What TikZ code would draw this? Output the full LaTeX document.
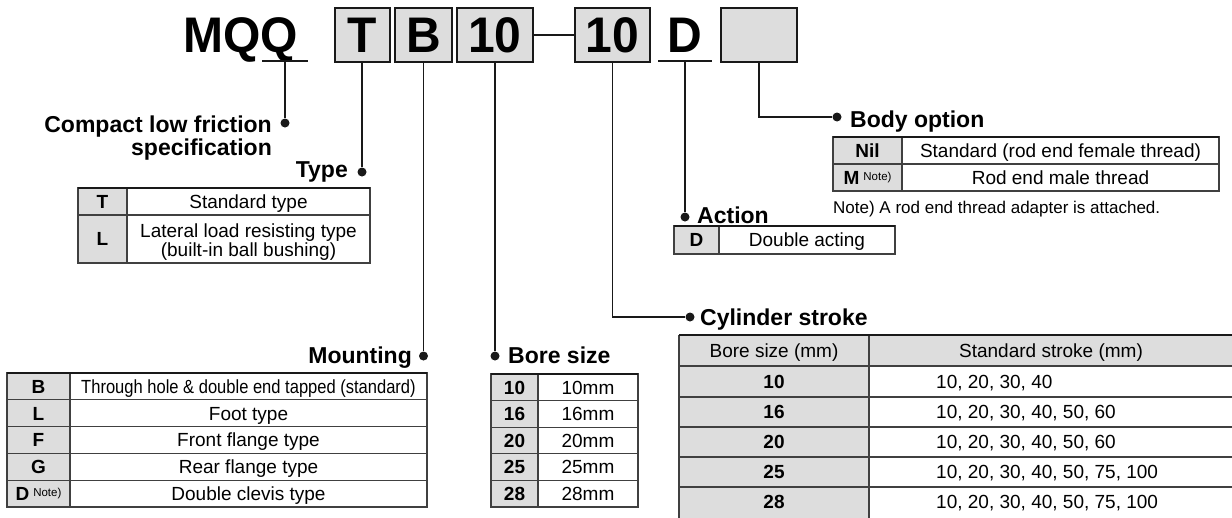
\documentclass[tikz,border=0pt]{standalone}
\usepackage{fontspec}
\setmainfont{Liberation Sans}
\definecolor{boxgray}{HTML}{DDDDDD}
\newcommand\fHead{\fontsize{50}{50}\selectfont\bfseries}
\newcommand\fLab{\fontsize{23}{25}\selectfont\bfseries}
\newcommand\fCell{\fontsize{19}{21}\selectfont}
\newcommand\fNote{\fontsize{17}{19}\selectfont}
\newcommand\fSup{\fontsize{11.5}{12}\selectfont\mdseries}
\begin{document}
\begin{tikzpicture}[x=1pt,y=-1pt,
 hbox/.style={draw=black!90,line width=2pt,fill=boxgray,inner sep=0pt,minimum height=54pt,font=\fHead},
 conn/.style={line width=1.9pt,draw=black!90},
 dotn/.style={circle,fill=black!90,inner sep=0pt,minimum size=9pt},
 lab/.style={font=\fLab,inner sep=0pt},
 cell/.style={font=\fCell,inner sep=0pt,text height=13.6pt,text depth=0pt},
 bcell/.style={cell,font=\fCell\bfseries},
 grid/.style={line width=1.1pt,draw=black!75},
 topl/.style={line width=2.2pt,draw=black!90},
]
\useasboundingbox[fill=white] (0,0) rectangle (1232,517);

% ---------- header ----------
\node[anchor=base west,inner sep=0pt,font=\fHead] (mqq) at (183,52) {\scalebox{0.96}[1]{MQQ}};
\draw[conn] (262,61) -- (308,61);
\coordinate (qu) at (285,61);
\node[hbox,minimum width=55pt] (tb) at (362,35) {\scalebox{0.96}[1]{T}};
\node[hbox,minimum width=57pt] (bb) at (423.5,35) {\scalebox{0.96}[1]{B}};
\node[hbox,minimum width=76pt] (b10) at (495,35) {\scalebox{0.96}[1]{10}};
\node[hbox,minimum width=75pt] (s10) at (612.5,35) {\scalebox{0.96}[1]{10}};
\draw[conn] (b10.east) -- (s10.west);
\node[anchor=base,inner sep=0pt,font=\fHead] (dd) at (685,52) {\scalebox{0.96}[1]{D}};
\draw[conn] (658,61) -- (712,61);
\coordinate (du) at (685,61);
\node[hbox,minimum width=76pt] (ob) at (759,35) {};

% ---------- dots ----------
\node[dotn] (qdot) at (285,123) {};
\node[dotn] (tdot) at (362,172) {};
\node[dotn] (mdot) at (423.5,356) {};
\node[dotn] (bdot) at (495,356) {};
\node[dotn] (sdot) at (690,317) {};
\node[dotn] (adot) at (685,217) {};
\node[dotn] (odot) at (837,117) {};

% ---------- connectors ----------
\draw[conn] (qu) -- (qdot);
\draw[conn] (tb.south) -- (tdot);
\draw[conn] (bb.south) -- (mdot);
\draw[conn] (b10.south) -- (bdot);
\draw[conn] (s10.south) |- (sdot);
\draw[conn] (du) -- (adot);
\draw[conn] (ob.south) |- (odot);

% ---------- labels ----------
\node[lab,anchor=base east] (l1) at (272,132) {Compact low friction};
\node[lab,anchor=base east] (l1b) at (272,155) {specification};
\node[lab,anchor=base east] (l2) at (348,177) {Type};
\node[lab,anchor=base east] (l3) at (412,363) {Mounting};
\node[lab,anchor=base west] (l4) at (508,363) {Bore size};
\node[lab,anchor=base west] (l5) at (700,325) {Cylinder stroke};
\node[lab,anchor=base west] (l6) at (697,223) {Action};
\node[lab,anchor=base west] (l7) at (850,127) {Body option};

% ---------- Type table ----------
\fill[boxgray] (78,188) rectangle (127,263);
\draw[grid] (78,188) rectangle (370,263) (127,188) -- (127,263) (78,215) -- (370,215);
\draw[topl] (78,188) -- (370,188);
\node[bcell] at (102.5,201.5) {T};
\node[cell] at (248.5,201.5) {Standard type};
\node[bcell] at (102.5,239) {L};
\node[cell,anchor=base] at (248.5,237) {Lateral load resisting type};
\node[cell,anchor=base] at (248.5,256) {(built-in ball bushing)};

% ---------- Body option table ----------
\fill[boxgray] (833,137) rectangle (902,191);
\draw[grid] (833,137) rectangle (1219,191) (902,137) -- (902,191) (833,164) -- (1219,164);
\draw[topl] (833,137) -- (1219,137);
\node[bcell] at (867.5,150.5) {Nil};
\node[cell] at (1060.5,150.5) {Standard (rod end female thread)};
\node[bcell] at (867.5,177.5) {M\hspace{4pt}\raisebox{4pt}{\fSup Note)}};
\node[cell] at (1060.5,177.5) {Rod end male thread};
\node[font=\fNote,anchor=base west,inner sep=0pt] at (833,213) {Note) A rod end thread adapter is attached.};

% ---------- Action table ----------
\fill[boxgray] (674,226) rectangle (719,254);
\draw[grid] (674,226) rectangle (895,254) (719,226) -- (719,254);
\draw[topl] (674,226) -- (895,226);
\node[bcell] at (696.5,240) {D};
\node[cell] at (807,240) {Double acting};

% ---------- Mounting table ----------
\fill[boxgray] (7,373) rectangle (70,507);
\draw[grid] (7,373) rectangle (427,507) (70,373) -- (70,507);
\foreach \yy in {399.8,426.6,453.4,480.2} \draw[grid] (7,\yy) -- (427,\yy);
\draw[topl] (7,373) -- (427,373);
\node[bcell] at (38.5,386.4) {B};
\node[cell] at (248.5,386.4) {\scalebox{0.87}[1]{Through hole \& double end tapped (standard)}};
\node[bcell] at (38.5,413.2) {L};
\node[cell] at (248.5,413.2) {Foot type};
\node[bcell] at (38.5,440) {F};
\node[cell] at (248.5,440) {Front flange type};
\node[bcell] at (38.5,466.8) {G};
\node[cell] at (248.5,466.8) {Rear flange type};
\node[bcell] at (38.5,493.6) {D\hspace{4pt}\raisebox{4pt}{\fSup Note)}};
\node[cell] at (248.5,493.6) {Double clevis type};

% ---------- Bore size table ----------
\fill[boxgray] (491,374) rectangle (538,507);
\draw[grid] (491,374) rectangle (638,507) (538,374) -- (538,507);
\foreach \yy in {400.6,427.2,453.8,480.4} \draw[grid] (491,\yy) -- (638,\yy);
\draw[topl] (491,374) -- (638,374);
\node[bcell] at (514.5,387.3) {10};
\node[cell] at (588,387.3) {10mm};
\node[bcell] at (514.5,413.9) {16};
\node[cell] at (588,413.9) {16mm};
\node[bcell] at (514.5,440.5) {20};
\node[cell] at (588,440.5) {20mm};
\node[bcell] at (514.5,467.1) {25};
\node[cell] at (588,467.1) {25mm};
\node[bcell] at (514.5,493.7) {28};
\node[cell] at (588,493.7) {28mm};

% ---------- Cylinder stroke table ----------
\fill[boxgray] (679,335) rectangle (869,522);
\fill[boxgray] (869,335) rectangle (1240,366);
\draw[grid] (679,335) -- (679,522) (869,335) -- (869,522);
\foreach \yy in {366,397,427,457,487} \draw[grid] (679,\yy) -- (1240,\yy);
\draw[topl] (679,335) -- (1240,335);
\node[cell] at (774,350.5) {Bore size (mm)};
\node[cell] at (1051,350.5) {Standard stroke (mm)};
\node[bcell] at (774,381.5) {10};
\node[cell,anchor=west] at (936,381.5) {10, 20, 30, 40};
\node[bcell] at (774,412) {16};
\node[cell,anchor=west] at (936,412) {10, 20, 30, 40, 50, 60};
\node[bcell] at (774,442) {20};
\node[cell,anchor=west] at (936,442) {10, 20, 30, 40, 50, 60};
\node[bcell] at (774,472) {25};
\node[cell,anchor=west] at (936,472) {10, 20, 30, 40, 50, 75, 100};
\node[bcell] at (774,502) {28};
\node[cell,anchor=west] at (936,502) {10, 20, 30, 40, 50, 75, 100};
\end{tikzpicture}
\end{document}
